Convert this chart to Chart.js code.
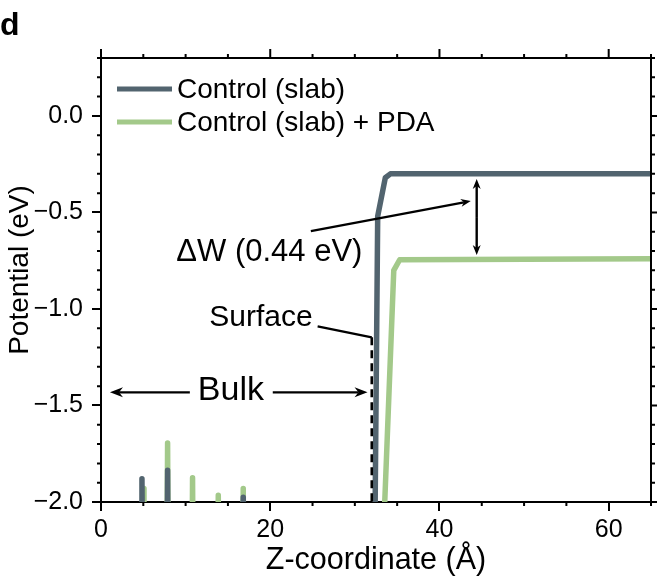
<!DOCTYPE html>
<html lang="en">
<head>
	<meta charset="UTF-8">
	<title>Potential profile</title>
	<script src="https://cdn.jsdelivr.net/npm/chart.js"></script>
	<style>
		body { margin: 0; background: #fff; }
		#wrap { width: 657px; height: 582px; }
	</style>
</head>
<body>
<div id="wrap"><canvas id="potentialChart"></canvas></div>
<script>
	// z-coordinate (A) and potential (eV). Values below -2 are clipped by the axis.
	const controlX = [0, 4.74, 4.84, 4.94, 7.77, 7.87, 7.97, 16.71, 16.81, 16.91, 32.28, 32.7, 33.6, 34.2, 65];
	const controlY = [-2.6, -2.6, -1.88, -2.6, -2.6, -1.835, -2.6, -2.6, -1.975, -2.6, -2.6, -0.52, -0.32, -0.30, -0.30];
	const pdaX = [0, 4.88, 4.98, 5.08, 7.77, 7.87, 7.97, 10.72, 10.82, 10.92, 13.76, 13.86, 13.96, 16.71, 16.81, 16.91, 33.0, 34.6, 35.3, 65];
	const pdaY = [-2.6, -2.6, -1.93, -2.6, -2.6, -1.695, -2.6, -2.6, -1.875, -2.6, -2.6, -1.965, -2.6, -2.6, -1.93, -2.6, -2.6, -0.80, -0.745, -0.74];
	const seriesNames = ['Control (slab)', 'Control (slab) + PDA'];
	const seriesColors = ['#52646f', '#a3c98a'];

	// annotations, in data units: [x1, y1, x2, y2, heads]
	const pointers = [
		[24.8, -0.597, 43.7, -0.441, 'end'],
		[44.4, -0.721, 44.4, -0.327, 'both'],
		[10.5, -1.432, 1.06, -1.432, 'end'],
		[20.3, -1.432, 31.5, -1.432, 'end'],
		[25.6, -1.09, 32.0, -1.147, 'none']
	];
	const surfaceLine = [32.0, -1.147, -2.0];
	const notes = [
		['ΔW (0.44 eV)', 19.9, -0.706, 31],
		['Surface', 18.9, -1.043, 30],
		['Bulk', 15.35, -1.425, 34]
	];

	const FONT = "'Liberation Sans', Arial, sans-serif";
	const toPoints = (xs, ys) => xs.map((x, i) => ({ x: x, y: ys[i] }));

	function drawArrow(ctx, x1, y1, x2, y2, len, half) {
		const a = Math.atan2(y2 - y1, x2 - x1);
		ctx.beginPath();
		ctx.moveTo(x1, y1);
		ctx.lineTo(x2 - Math.cos(a) * len * 0.7, y2 - Math.sin(a) * len * 0.7);
		ctx.stroke();
		ctx.beginPath();
		ctx.moveTo(x2, y2);
		ctx.lineTo(x2 - Math.cos(a) * len - Math.sin(a) * half, y2 - Math.sin(a) * len + Math.cos(a) * half);
		ctx.lineTo(x2 - Math.cos(a) * len * 0.7, y2 - Math.sin(a) * len * 0.7);
		ctx.lineTo(x2 - Math.cos(a) * len + Math.sin(a) * half, y2 - Math.sin(a) * len - Math.cos(a) * half);
		ctx.closePath();
		ctx.fill();
	}

	const extras = {
		id: 'extras',
		afterDatasetsDraw(chart) {
			const { ctx, chartArea: area, scales: { x, y } } = chart;
			ctx.save();
			ctx.strokeStyle = '#000';
			ctx.fillStyle = '#000';
			ctx.lineWidth = 2;

			// top and right frame with outward ticks, minor ticks on all sides
			ctx.beginPath();
			ctx.moveTo(area.left, area.top);
			ctx.lineTo(area.right, area.top);
			ctx.lineTo(area.right, area.bottom);
			ctx.stroke();
			ctx.beginPath();
			for (let v = 0; v <= 65; v += 5) {
				const px = x.getPixelForValue(v);
				const major = v % 20 === 0;
				ctx.moveTo(px, area.top);
				ctx.lineTo(px, area.top - (major ? 9 : 4));
				if (!major) {
					ctx.moveTo(px, area.bottom);
					ctx.lineTo(px, area.bottom + 4);
				}
			}
			for (let i = -20; i <= 3; i++) {
				const py = y.getPixelForValue(i / 10);
				const major = i % 5 === 0;
				ctx.moveTo(area.right, py);
				ctx.lineTo(area.right + (major ? 9 : 4), py);
				if (!major) {
					ctx.moveTo(area.left, py);
					ctx.lineTo(area.left - 4, py);
				}
			}
			ctx.stroke();

			// pointers and arrows
			ctx.lineWidth = 2.4;
			pointers.forEach(([x1, y1, x2, y2, heads]) => {
				const a = [x.getPixelForValue(x1), y.getPixelForValue(y1)];
				const b = [x.getPixelForValue(x2), y.getPixelForValue(y2)];
				const big = Math.abs(y1 - y2) < 1e-6 && heads === 'end' && y1 < -1;
				const len = big ? 13 : 10, half = big ? 5 : 4;
				if (heads === 'none') {
					ctx.beginPath();
					ctx.moveTo(a[0], a[1]);
					ctx.lineTo(b[0], b[1]);
					ctx.stroke();
				} else if (heads === 'both') {
					const mx = (a[0] + b[0]) / 2, my = (a[1] + b[1]) / 2;
					drawArrow(ctx, mx, my, a[0], a[1], len, half);
					drawArrow(ctx, mx, my, b[0], b[1], len, half);
				} else {
					drawArrow(ctx, a[0], a[1], b[0], b[1], len, half);
				}
			});
			ctx.lineWidth = 2.6;
			ctx.setLineDash([8, 5]);
			ctx.beginPath();
			ctx.moveTo(x.getPixelForValue(surfaceLine[0]), y.getPixelForValue(surfaceLine[1]));
			ctx.lineTo(x.getPixelForValue(surfaceLine[0]), y.getPixelForValue(surfaceLine[2]));
			ctx.stroke();
			ctx.setLineDash([]);

			ctx.textAlign = 'center';
			ctx.textBaseline = 'middle';
			notes.forEach(([text, nx, ny, size]) => {
				ctx.font = size + 'px ' + FONT;
				ctx.fillText(text, x.getPixelForValue(nx), y.getPixelForValue(ny));
			});

			// legend, inside the plot
			ctx.textAlign = 'left';
			ctx.font = '28px ' + FONT;
			chart.data.datasets.forEach((ds, i) => {
				const ly = area.top + 31 + i * 33;
				ctx.strokeStyle = ds.borderColor;
				ctx.lineWidth = 5;
				ctx.beginPath();
				ctx.moveTo(area.left + 16, ly);
				ctx.lineTo(area.left + 71, ly);
				ctx.stroke();
				ctx.fillStyle = '#000';
				ctx.fillText(ds.label, area.left + 76, ly + 1);
			});

			// y title, set a little above the middle as in the figure
			ctx.save();
			ctx.translate(20, (area.top + area.bottom) / 2 - 10);
			ctx.rotate(-Math.PI / 2);
			ctx.textAlign = 'center';
			ctx.font = '28px ' + FONT;
			ctx.fillText('Potential (eV)', 0, 0);
			ctx.restore();

			// panel letter
			ctx.font = 'bold 32px ' + FONT;
			ctx.textBaseline = 'alphabetic';
			ctx.fillText('d', 0, 35);
			ctx.restore();
		}
	};

	const ctx = document.getElementById('potentialChart').getContext('2d');
	const potentialChart = new Chart(ctx, {
		type: 'line',
		data: {
			datasets: [
				{
					label: seriesNames[0],
					data: toPoints(controlX, controlY),
					borderColor: seriesColors[0],
					borderWidth: 5.5,
					borderJoinStyle: 'round',
					borderCapStyle: 'round',
					pointRadius: 0,
					clip: 0
				},
				{
					label: seriesNames[1],
					data: toPoints(pdaX, pdaY),
					borderColor: seriesColors[1],
					borderWidth: 5.5,
					borderJoinStyle: 'round',
					borderCapStyle: 'round',
					pointRadius: 0,
					clip: 0
				}
			]
		},
		options: {
			animation: false,
			responsive: true,
			maintainAspectRatio: false,
			layout: { padding: { top: 58, right: 6, left: 0, bottom: 0 } },
			plugins: {
				legend: { display: false },
				tooltip: { enabled: false }
			},
			scales: {
				x: {
					type: 'linear',
					min: 0,
					max: 65,
					border: { display: true, color: '#000', width: 2 },
					grid: { drawOnChartArea: false, color: '#000', lineWidth: 2, tickLength: 9 },
					ticks: {
						stepSize: 20,
						includeBounds: false,
						color: '#000',
						padding: 4,
						maxRotation: 0,
						font: { family: FONT, size: 25 }
					},
					title: {
						display: true,
						text: 'Z-coordinate (Å)',
						color: '#000',
						font: { family: FONT, size: 30.5 },
						padding: { top: 0, bottom: 3 }
					},
					afterFit(scale) { scale.height = 80; }
				},
				y: {
					type: 'linear',
					min: -2,
					max: 0.3,
					border: { display: true, color: '#000', width: 2 },
					grid: { drawOnChartArea: false, color: '#000', lineWidth: 2, tickLength: 9 },
					ticks: {
						stepSize: 0.5,
						includeBounds: false,
						color: '#000',
						padding: 9,
						font: { family: FONT, size: 25 },
						callback: v => v.toFixed(1).replace('-', '\u2212')
					},
					title: { display: false },
					afterFit(scale) { scale.width = 101; }
				}
			}
		},
		plugins: [extras]
	});
</script>
</body>
</html>
